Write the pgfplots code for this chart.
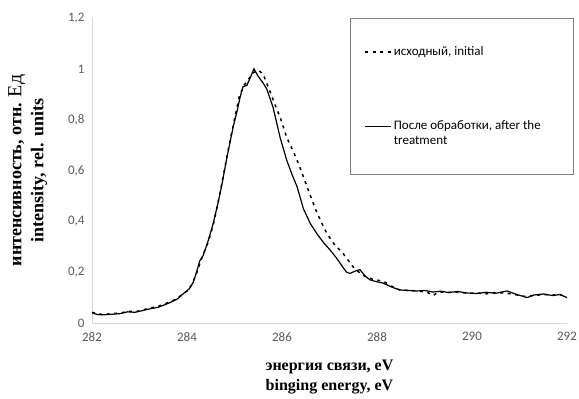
\documentclass[border=0pt]{standalone}
\usepackage{fontspec}
\setmainfont{Liberation Serif}
\newfontfamily\carlito{Carlito}
\usepackage{pgfplots}
\pgfplotsset{compat=1.18}
\definecolor{axgray}{RGB}{217,217,217}
\definecolor{tickgray}{RGB}{89,89,89}
\definecolor{leggray}{RGB}{128,128,128}
\pgfplotsset{
  lowimg/.style={legend image code/.code={\draw[##1] (0pt,3.5pt) -- (26pt,3.5pt);}},
  highimg/.style={legend image code/.code={\draw[##1] (0pt,18.5pt) -- (26pt,18.5pt);}},
}
\begin{document}
\begin{tikzpicture}
\begin{axis}[
  scale only axis,
  width=475pt, height=305pt,
  xmin=282, xmax=292, ymin=0, ymax=1.2,
  xtick={282,284,...,292},
  ytick={0,0.2,0.4,0.6,0.8,1,1.2},
  axis x line=bottom, axis y line=left,
  axis line style={draw=axgray, line width=0.8pt, -},
  major tick length=0pt,
  ticklabel style={font=\carlito\fontsize{13}{15}\selectfont, text=tickgray},
  /pgf/number format/assume math mode=true,
  /pgf/number format/use comma,
  /pgf/number format/1000 sep={},
  xticklabel style={yshift=-6pt},
  yticklabel style={xshift=-4pt},
  xlabel={энергия связи, eV\\binging energy, eV},
  xlabel style={font=\bfseries\fontsize{16}{20}\selectfont, align=center, anchor=center, at={(axis description cs:0.5,-0.177)}},
  ylabel={интенсивность, отн. {\mdseries\fontsize{20}{20}\selectfont Ед}\\intensity, rel. units},
  ylabel style={font=\bfseries\fontsize{18}{22}\selectfont, align=center, anchor=center, at={(axis description cs:-0.135,0.5)}},
  legend style={at={(0.543,1)}, anchor=north west, draw=leggray, line width=0.8pt,
    font=\carlito\fontsize{13}{15}\selectfont, inner xsep=14pt, inner ysep=26pt, row sep=60pt,
    cells={anchor=base west}},
]
\addplot[black, line width=1.5pt, dash pattern=on 3pt off 4.5pt, lowimg] coordinates {
(282.00,0.042) (282.10,0.037) (282.20,0.034) (282.40,0.036) (282.60,0.040) (282.80,0.046)
(282.90,0.044) (283.00,0.048) (283.20,0.058) (283.40,0.066) (283.60,0.080) (283.75,0.092)
(283.90,0.112) (284.00,0.125) (284.10,0.150) (284.20,0.195) (284.30,0.250) (284.35,0.275)
(284.45,0.320) (284.55,0.385) (284.65,0.470) (284.75,0.565) (284.85,0.665) (284.97,0.775)
(285.10,0.890) (285.20,0.935) (285.30,0.960) (285.40,0.985) (285.50,0.995) (285.60,0.980)
(285.75,0.910) (285.85,0.860) (285.96,0.810) (286.10,0.730) (286.20,0.690) (286.32,0.640)
(286.48,0.560) (286.60,0.500) (286.70,0.450) (286.82,0.400) (286.95,0.350) (287.10,0.310)
(287.28,0.275) (287.40,0.245) (287.50,0.220) (287.65,0.195) (287.78,0.180) (287.95,0.170)
(288.13,0.165) (288.30,0.145) (288.48,0.130) (288.70,0.128) (288.90,0.125) (289.05,0.122)
(289.18,0.108) (289.30,0.122) (289.50,0.120) (289.70,0.122) (289.90,0.117) (290.10,0.118)
(290.30,0.115) (290.50,0.120) (290.70,0.118) (290.90,0.112) (291.10,0.105) (291.30,0.108)
(291.50,0.112) (291.70,0.110) (291.85,0.112) (292.00,0.100)
};
\addlegendentry{\parbox[t]{164pt}{исходный, initial}}
\addplot[black, line width=1.2pt, highimg] coordinates {
(282.00,0.040) (282.10,0.034) (282.20,0.032) (282.40,0.034) (282.60,0.037) (282.75,0.044)
(282.90,0.042) (283.00,0.046) (283.20,0.055) (283.40,0.062) (283.64,0.080) (283.80,0.095)
(283.92,0.115) (284.05,0.135) (284.13,0.160) (284.20,0.200) (284.27,0.245) (284.34,0.265)
(284.44,0.320) (284.55,0.390) (284.65,0.470) (284.73,0.540) (284.84,0.650) (284.97,0.770)
(285.05,0.830) (285.12,0.890) (285.18,0.930) (285.26,0.935) (285.32,0.960) (285.41,1.000)
(285.50,0.970) (285.60,0.945) (285.68,0.920) (285.81,0.850) (285.96,0.730) (286.10,0.640)
(286.22,0.580) (286.32,0.535) (286.45,0.450) (286.60,0.390) (286.74,0.350) (286.88,0.315)
(287.00,0.290) (287.15,0.255) (287.28,0.220) (287.36,0.200) (287.43,0.195) (287.55,0.205)
(287.64,0.210) (287.75,0.185) (287.85,0.170) (288.00,0.162) (288.13,0.157) (288.30,0.142)
(288.48,0.130) (288.65,0.128) (288.84,0.126) (289.00,0.128) (289.18,0.122) (289.35,0.125)
(289.50,0.120) (289.70,0.124) (289.90,0.118) (290.10,0.116) (290.30,0.121) (290.50,0.117)
(290.74,0.126) (290.90,0.115) (291.05,0.106) (291.16,0.100) (291.30,0.110) (291.50,0.114)
(291.70,0.108) (291.85,0.112) (292.00,0.100)
};
\addlegendentry{\parbox[b]{164pt}{\raggedright После обработки, after the\\treatment}}
\end{axis}
\pgfresetboundingbox
\path[use as bounding box] (-92pt,-76pt) rectangle (487pt,323pt);
\end{tikzpicture}
\end{document}
